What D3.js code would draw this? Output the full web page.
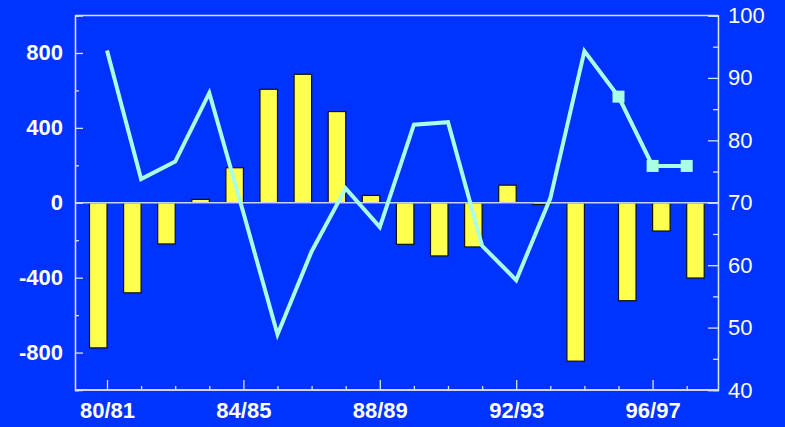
<!DOCTYPE html>
<html><head><meta charset="utf-8">
<script src="https://cdn.jsdelivr.net/npm/d3@7"></script>
<style>
html,body{margin:0;padding:0;background:#0033ff;}
svg{display:block;}
text{font-family:"Liberation Sans",Arial,sans-serif;fill:#fff;}
</style></head>
<body>
<svg id="c" width="785" height="427"></svg>
<script>
const years = ["80/81","81/82","82/83","83/84","84/85","85/86","86/87","87/88","88/89","89/90","90/91","91/92","92/93","93/94","94/95","95/96","96/97","97/98"];
const barValues = [-775,-481,-220,18,187,606,686,487,39,-222,-284,-236,94,-10,-846,-523,-151,-402];
const lineValues = [94.4,73.8,76.6,87.6,68.4,48.9,62.2,72.3,66.1,82.5,82.9,63.1,57.6,70.7,94.3,87.0,75.9,75.9];
const markerYears = ["95/96","96/97","97/98"];
const xTickLabels = ["80/81","84/85","88/89","92/93","96/97"];
const leftTicks = [-800,-400,0,400,800];
const rightTicks = [40,50,60,70,80,90,100];

const svg = d3.select("#c");
const L = 75, R = 718, T = 15.5, B = 390;

const x = d3.scalePoint().domain(years).range([107, 686.7]);
const yL = d3.scaleLinear().domain([-1000,1000]).range([B,T]);
const yR = d3.scaleLinear().domain([40,100]).range([B,T]);
const bw = 17.5;
const fmt = d => String(d);

const axColor = "#d8e0ff";
svg.append("line").attr("x1",L).attr("x2",R).attr("y1",T).attr("y2",T).attr("stroke",axColor).attr("stroke-width",1.3);

// bars
svg.append("g").selectAll("rect").data(years).join("rect")
  .attr("x",(d,i)=> i >= 15 ? x(d) : x(d)-bw)
  .attr("width",bw)
  .attr("y",(d,i)=> yL(Math.max(0,barValues[i])))
  .attr("height",(d,i)=> Math.abs(yL(barValues[i])-yL(0)))
  .attr("fill","#ffff4d").attr("stroke","#111").attr("stroke-width",1.2);

// zero line
svg.append("line").attr("x1",L).attr("x2",R).attr("y1",yL(0)).attr("y2",yL(0))
  .attr("stroke","#c8d4ff").attr("stroke-width",1.5);

// left axis
const gL = svg.append("g").attr("transform",`translate(${L},0)`)
  .call(d3.axisLeft(yL).tickValues(leftTicks).tickSize(-8).tickPadding(12).tickFormat(fmt));
gL.append("g").call(d3.axisLeft(yL).tickValues([-1000,-600,-200,200,600,1000]).tickSize(-4).tickFormat(""));
gL.selectAll("text").style("font-size","22px").style("font-weight","bold").attr("fill","#fff");

// right axis
const gR = svg.append("g").attr("transform",`translate(${R},0)`)
  .call(d3.axisRight(yR).tickValues(rightTicks).tickSize(-10).tickPadding(10).tickFormat(fmt));
gR.append("g").call(d3.axisRight(yR).tickValues([45,55,65,75,85,95]).tickSize(-5).tickFormat(""));
gR.selectAll("text").style("font-size","22px").attr("fill","#fff");

// bottom axis
const gB = svg.append("g").attr("transform",`translate(0,${B})`)
  .call(d3.axisBottom(x).tickValues(xTickLabels).tickSize(-10).tickPadding(12));
gB.append("g").call(d3.axisBottom(x).tickValues(years.filter(y=>!xTickLabels.includes(y))).tickSize(-4).tickFormat(""));
gB.selectAll("text").style("font-size","22px").style("font-weight","bold").attr("fill","#fff");

[gL,gR,gB].forEach(g=>{
  g.selectAll(".domain").attr("stroke",axColor).attr("stroke-width",1.3);
  g.selectAll(".tick line").attr("stroke",axColor).attr("stroke-width",1.3);
});
gB.selectAll(".domain").attr("d",`M${L},0H${R}`);

// line
svg.append("path").datum(years)
  .attr("d", d3.line().x(d=>x(d)).y((d,i)=>yR(lineValues[i])))
  .attr("fill","none").attr("stroke","#a8ffe6").attr("stroke-width",4).attr("stroke-linejoin","miter");

svg.append("g").selectAll("rect").data(markerYears).join("rect")
  .attr("x",d=>x(d)-6).attr("y",d=>yR(lineValues[years.indexOf(d)])-6)
  .attr("width",12).attr("height",12).attr("fill","#a8ffe6");
</script>
</body></html>
